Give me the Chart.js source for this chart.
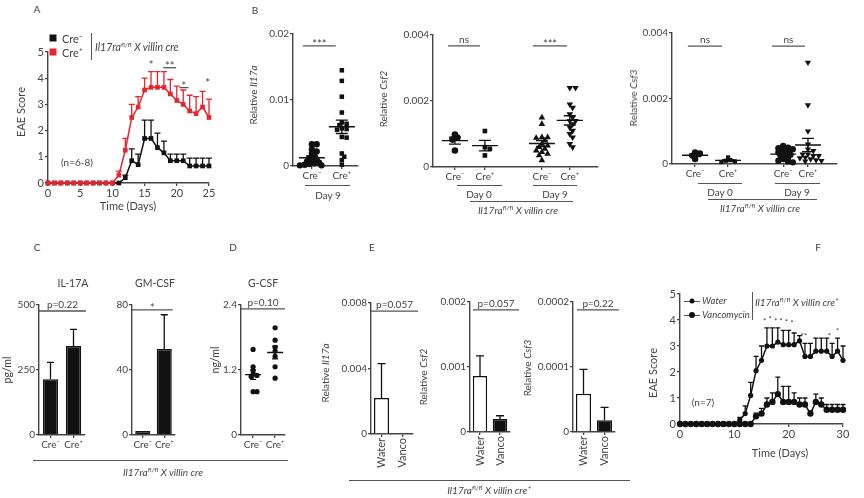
<!DOCTYPE html>
<html><head><meta charset="utf-8">
<script src="https://cdn.jsdelivr.net/npm/chart.js@4.4.1/dist/chart.umd.min.js"></script>
<style>
body{margin:0;width:864px;height:498px;background:#fff;position:relative;overflow:hidden;font-family:Lato,"Open Sans","DejaVu Sans",sans-serif;color:#444}
canvas{position:absolute}
.t{position:absolute;white-space:nowrap;transform:translate(-50%,-50%);font-size:11px;line-height:1}
.v{transform:translate(-50%,-50%) rotate(-90deg)}
.l{transform:translate(0,-50%)}
.hl{position:absolute;height:0;border-top:1.3px solid #555}
.vl{position:absolute;width:0;border-left:1.3px solid #555}
sup{font-size:6.5px;vertical-align:4px;line-height:0}
.sq{position:absolute;width:7px;height:7px;transform:translate(-50%,-50%)}
</style></head><body>
<script>
// ---------------- DATA ----------------
// Panel A: EAE score, Il17ra fl/fl x villin cre
const daysA = [0,1,2,3,4,5,6,7,8,9,10,11,12,13,14,15,16,17,18,19,20,21,22,23,24,25];
const creNegA    = [0,0,0,0,0,0,0,0,0,0,0,0,0.2,0.85,0.7,1.7,1.7,1.35,1.15,0.85,0.85,0.85,0.65,0.65,0.65,0.65];
const creNegSemA = [0,0,0,0,0,0,0,0,0,0,0,0,0.1,0.45,0.4,0.7,0.7,0.55,0.45,0.25,0.25,0.25,0.3,0.3,0.3,0.3];
const crePosA    = [0,0,0,0,0,0,0,0,0,0,0,0.3,1.25,2.5,2.9,3.55,3.65,3.65,3.65,3.4,3.15,3.0,2.75,2.65,2.9,2.5];
const crePosSemA = [0,0,0,0,0,0,0,0,0,0,0,0.15,0.45,0.5,0.4,0.45,0.6,0.6,0.6,0.55,0.55,0.55,0.6,0.65,0.6,0.7];
const xTicksA = [0,5,10,15,20,25];
const yTicksEAE = [0,1,2,3,4,5];

// Panel B: relative expression (scatter)
const catLabels = ['Cre\u207B','Cre\u207A','Cre\u207B','Cre\u207A'];
const il17aNegD9 = [0.0033,0.0033,0.0025,0.0022,0.0019,0.0015,0.0012,0.001,0.0008,0.0007,0.0005,0.0004,0.0003,0.0002,0.0001,0.0001];
const il17aPosD9 = [0.0145,0.0129,0.0105,0.0081,0.0066,0.0064,0.0062,0.0057,0.0056,0.0055,0.0044,0.0043,0.0019,0.0014,0.0009,0.0002];
const yTicksIl17a = [0,0.01,0.02];         const yLabelsIl17a = ['0','0.01','0.02'];
const csf2NegD0 = [0.00098,0.00089,0.00083,0.0005];
const csf2PosD0 = [0.00109,0.0006,0.00055,0.00035];
const csf2NegD9 = [0.0015,0.0013,0.0009,0.0009,0.00088,0.0008,0.0007,0.00065,0.0006,0.00055,0.0005,0.00045,0.0004,0.00035,0.0002];
const csf2PosD9 = [0.0024,0.0024,0.0019,0.0018,0.0016,0.0015,0.0014,0.0014,0.0013,0.0012,0.0011,0.001,0.0009,0.0007,0.0006];
const csf3NegD0 = [0.00035,0.00032,0.00025,0.00015];
const csf3PosD0 = [0.0002,0.00012,0.0001,0.00008,0.00006];
const csf3NegD9 = [0.00055,0.0005,0.00048,0.00045,0.0004,0.00038,0.00035,0.0003,0.00028,0.00025,0.0002,0.00015,0.0001,0.00008,0.00005];
const csf3PosD9 = [0.0031,0.0018,0.001,0.0006,0.00045,0.0004,0.0003,0.0003,0.00025,0.00025,0.0002,0.00018,0.00015,0.00012,0.0001,0.00008];
const yTicksCsf = [0,0.002,0.004];         const yLabelsCsf = ['0','0.002','0.004'];

// Panel C: serum cytokines (bars, mean + SEM)
const il17aProt = [214,342];  const il17aProtSem = [65,64];
const gmcsfProt = [2.5,53];   const gmcsfProtSem = [0,21];
const yTicksIL17A = [0,250,500]; const yLabelsIL17A = ['0','250','500'];
const yTicksGM = [0,40,80];      const yLabelsGM = ['0','40','80'];

// Panel D: G-CSF (scatter)
const gcsfNeg = [1.58,1.26,1.18,1.12,1.1,1.08,0.8,0.8];
const gcsfPos = [1.98,1.75,1.62,1.55,1.45,1.26,1.05];
const yTicksG = [0,1.2,2.4]; const yLabelsG = ['0','1.2','2.4'];

// Panel E: water vs vancomycin (bars)
const treatLabels = ['Water','Vanco'];
const il17aTreat = [0.0022,0];          const il17aTreatSem = [0.0021,0];
const csf2Treat  = [0.00086,0.0002];    const csf2TreatSem  = [0.00031,0.00005];
const csf3Treat  = [0.0000587,0.0000179]; const csf3TreatSem = [0.0000377,0.00002];
const yTicksE1 = [0,0.004,0.008];   const yLabelsE1 = ['0','0.004','0.008'];
const yTicksE2 = [0,0.001,0.002];   const yLabelsE2 = ['0','0.001','0.002'];
const yTicksE3 = [0,0.0001,0.0002]; const yLabelsE3 = ['0','0.0001','0.0002'];

// Panel F: EAE score, water vs vancomycin
const daysF = [0,1,2,3,4,5,6,7,8,9,10,11,12,13,14,15,16,17,18,19,20,21,22,23,24,25,26,27,28,29,30];
const waterF    = [0,0,0,0,0,0,0,0,0,0,0,0.15,0.4,1.1,2.05,2.45,3.0,3.0,3.15,3.05,3.05,3.05,3.2,2.6,2.6,2.8,2.8,2.8,2.6,2.8,2.45];
const waterSemF = [0,0,0,0,0,0,0,0,0,0,0,0.1,0.3,0.5,0.55,0.55,0.7,0.7,0.55,0.55,0.55,0.45,0.2,0.5,0.5,0.5,0.5,0.5,0.5,0.5,0.55];
const vancoF    = [0,0,0,0,0,0,0,0,0,0,0,0,0,0,0.3,0.4,0.75,0.85,1.15,0.85,0.85,0.85,0.75,0.75,0.4,0.85,0.75,0.55,0.55,0.55,0.55];
const vancoSemF = [0,0,0,0,0,0,0,0,0,0,0,0,0,0,0.12,0.2,0.25,0.35,0.65,0.6,0.6,0.35,0.25,0.25,0.1,0.3,0.25,0.2,0.2,0.2,0.2];
const xTicksF = [0,10,20,30];

// ---------------- RENDERING ----------------
Chart.defaults.font.family = 'Lato, "Open Sans", "DejaVu Sans", sans-serif';
Chart.defaults.font.size = 10;
Chart.defaults.color = '#444';
const INK = '#111', RED = '#e3262f';
const EX = {};
const G = {drawOnChartArea:false, drawTicks:true, tickLength:3, color:'#444', lineWidth:1.3};
const BORDER = {display:true, color:'#444', width:1.4};

const extras = {
  id:'extras',
  beforeDatasetsDraw(chart){
    const o = EX[chart.canvas.id] || {}; const ctx = chart.ctx; const ys = chart.scales.y;
    ctx.save();
    chart.data.datasets.forEach((ds, di) => {
      if (!ds.sem) return;
      const meta = chart.getDatasetMeta(di);
      ctx.strokeStyle = ds.errColor || INK; ctx.lineWidth = o.errW || 1.3;
      meta.data.forEach((el, i) => {
        const s = ds.sem[i]; if (!s) return;
        const raw = ds.data[i]; const v = (typeof raw === 'object') ? raw.y : raw;
        const y1 = ys.getPixelForValue(v + s);
        ctx.beginPath(); ctx.moveTo(el.x, el.y); ctx.lineTo(el.x, y1);
        ctx.moveTo(el.x - (o.cap||3), y1); ctx.lineTo(el.x + (o.cap||3), y1); ctx.stroke();
      });
    });
    ctx.restore();
  },
  afterDatasetsDraw(chart){
    const o = EX[chart.canvas.id] || {}; const ctx = chart.ctx;
    const xs = chart.scales.x, ys = chart.scales.y;
    ctx.save();
    ctx.strokeStyle = INK; ctx.lineWidth = 1.3;
    chart.data.datasets.forEach(ds => {
      if (!ds.vals) return;
      const n = ds.vals.length; const m = ds.vals.reduce((a,b)=>a+b,0)/n;
      const sd = Math.sqrt(ds.vals.reduce((a,b)=>a+(b-m)*(b-m),0)/(n-1)); const se = sd/Math.sqrt(n);
      const cx = xs.getPixelForValue(ds.pos), ym = ys.getPixelForValue(m);
      const yt = ys.getPixelForValue(m+se), yb = ys.getPixelForValue(Math.max(m-se, 0));
      ctx.beginPath();
      ctx.moveTo(cx - o.mh, ym); ctx.lineTo(cx + o.mh, ym);
      ctx.moveTo(cx, yt); ctx.lineTo(cx, yb);
      ctx.moveTo(cx - o.ch, yt); ctx.lineTo(cx + o.ch, yt);
      ctx.moveTo(cx - o.ch, yb); ctx.lineTo(cx + o.ch, yb);
      ctx.stroke();
    });
    ctx.strokeStyle = '#555'; ctx.fillStyle = '#444'; ctx.textAlign = 'center';
    const fs = o.sfs || 10;
    (o.sig||[]).forEach(s => {
      const x1 = xs.getPixelForValue(s.x1), x2 = xs.getPixelForValue(s.x2), y = ys.getPixelForValue(s.y);
      ctx.beginPath(); ctx.moveTo(x1, y); ctx.lineTo(x2, y); ctx.stroke();
      const star = s.t.indexOf('*') >= 0;
      ctx.font = (star ? fs+1 : fs) + 'px Lato, "Open Sans", sans-serif';
      ctx.fillText(s.t, (x1+x2)/2, star ? y + 2 : y - 3);
    });
    (o.stars||[]).forEach(s => {
      ctx.font = (o.stfs || fs+1) + 'px Lato, "Open Sans", sans-serif';
      ctx.fillText(s.t, xs.getPixelForValue(s.x), ys.getPixelForValue(s.y) + (o.stfs||fs+1)*0.55);
    });
    ctx.restore();
  }
};

function build(id, area, type, labels, datasets, o){
  const L = 50, T = 22, R = 26, B = o.B || 30;
  const w = area[1]-area[0]+L+R, h = area[3]-area[2]+T+B;
  const c = document.createElement('canvas');
  c.id = id; c.width = w; c.height = h;
  Object.assign(c.style, {left:(area[0]-L)+'px', top:(area[2]-T)+'px', width:w+'px', height:h+'px'});
  document.body.appendChild(c);
  const fs = o.fs || 10;
  const x = o.cat ? {
      type:'category', offset:true, grid:Object.assign({}, G, {offset:false}), border:BORDER,
      ticks:{font:{size:o.xfs||fs}, padding:1, autoSkip:false, minRotation:o.rot||0, maxRotation:o.rot||0}
    } : {
      type:'linear', min:o.xmin, max:o.xmax, grid:G, border:BORDER,
      afterBuildTicks:s=>{ s.ticks = o.xTicks.map(v=>({value:v})); },
      ticks:{font:{size:fs}, padding:1, autoSkip:false, minRotation:0, maxRotation:0, callback:(v,i)=>o.xLabels[i]}
    };
  x.afterFit = s => { s.height = B; };
  const y = {
    type:'linear', min:o.ymin, max:o.ymax, grid:G, border:BORDER,
    afterBuildTicks:s=>{ s.ticks = o.yTicks.map(v=>({value:v})); },
    ticks:{font:{size:fs}, padding:1, callback:(v,i)=>o.yLabels[i]},
    afterFit:s => { s.width = L; }
  };
  EX[id] = o;
  const data = {datasets}; if (labels) data.labels = labels;
  return new Chart(c, {type, data, options:{responsive:false, animation:false, devicePixelRatio:1,
    layout:{padding:{left:0, top:T, right:R, bottom:0}},
    plugins:{legend:{display:false}, tooltip:{enabled:false}}, scales:{x, y}}, plugins:[extras]});
}

// deterministic beeswarm: spread near-equal values sideways so markers overlap less
function swarm(vals, pos, pxX, pxY, r){
  const placed = [], out = new Array(vals.length);
  const order = vals.map((v,i)=>i).sort((a,b)=>vals[b]-vals[a]);
  for (const i of order){
    const py = vals[i]*pxY;
    for (let k=0;k<60;k++){
      const off = (k===0 ? 0 : (k%2 ? 1 : -1)*Math.ceil(k/2))*r*0.75;
      if (placed.every(p => Math.hypot(p.x-off, p.y-py) >= 1.05*r) || k===59){
        placed.push({x:off, y:py}); out[i] = {x: pos + off/pxX, y: vals[i]}; break;
      }
    }
  }
  return out;
}

function scatter(id, area, groups, o){
  const pxX = (area[1]-area[0])/(o.xmax-o.xmin), pxY = (area[3]-area[2])/(o.ymax-o.ymin);
  const ds = groups.map(g => ({
    data: swarm(g.vals, g.pos, pxX, pxY, g.r), vals:g.vals, pos:g.pos,
    pointStyle:g.style, pointRotation:g.rot||0, pointRadius:g.r, pointHoverRadius:g.r,
    backgroundColor:INK, borderColor:INK, pointBorderWidth:0, clip:false
  }));
  o.xTicks = groups.map(g=>g.pos);
  return build(id, area, 'scatter', null, ds, o);
}

function lineDs(days, vals, sem, color, style, r, order){
  return {data: days.map((d,i)=>({x:d, y:vals[i]})), sem, errColor:color,
    borderColor:color, backgroundColor:color, pointStyle:style, pointRadius:r, pointHoverRadius:r,
    pointBorderWidth:0, borderWidth:1.5, clip:false, order, tension:0};
}
function barDs(vals, sem, colors, pct){
  return {data: vals, sem, backgroundColor: colors, borderColor: INK, borderWidth: 1.5,
    barPercentage: pct, categoryPercentage: 1, errColor: INK};
}

// ---- A ----
build('A', [48,209,52,183], 'line', null, [
  lineDs(daysA, crePosA, crePosSemA, RED, 'rect', 3.3, 0),
  lineDs(daysA, creNegA, creNegSemA, INK, 'rect', 3.3, 1)
], {xmin:0, xmax:25, xTicks:xTicksA, xLabels:xTicksA.map(String), ymin:0, ymax:5, yTicks:yTicksEAE, yLabels:yTicksEAE.map(String),
    fs:11, cap:3, B:24,
    sig:[{x1:17.9,x2:19.9,y:4.4,t:'**'},{x1:20.4,x2:21.8,y:3.64,t:'*'}],
    stars:[{x:16,y:4.6,t:'*'},{x:24.8,y:3.88,t:'*'}]});

// ---- B ----
scatter('B1', [293,358,34,166], [
  {vals:il17aNegD9, pos:1, style:'circle', r:3.2},
  {vals:il17aPosD9, pos:2, style:'rect', r:3.2}
], {xmin:0.37, xmax:2.54, xLabels:catLabels, ymin:0, ymax:0.02, yTicks:yTicksIl17a, yLabels:yLabelsIl17a,
    mh:13, ch:6, sig:[{x1:0.7,x2:1.8,y:0.0182,t:'***'}]});

scatter('B2', [433,598,35,167], [
  {vals:csf2NegD0, pos:1, style:'circle', r:3.3},
  {vals:csf2PosD0, pos:2, style:'rect', r:3.3},
  {vals:csf2NegD9, pos:3.9, style:'triangle', r:3.8},
  {vals:csf2PosD9, pos:4.83, style:'triangle', rot:180, r:3.8}
], {xmin:0.27, xmax:5.77, xLabels:catLabels, ymin:0, ymax:0.004, yTicks:yTicksCsf, yLabels:yLabelsCsf,
    mh:13, ch:6, sig:[{x1:0.77,x2:1.84,y:0.00367,t:'ns'},{x1:3.6,x2:4.74,y:0.00367,t:'***'}]});

scatter('B3', [672,837,33,164], [
  {vals:csf3NegD0, pos:1, style:'circle', r:3.2},
  {vals:csf3PosD0, pos:2, style:'rect', r:3.0},
  {vals:csf3NegD9, pos:3.67, style:'circle', r:3.2},
  {vals:csf3PosD9, pos:4.42, style:'triangle', rot:180, r:3.6}
], {xmin:0.30, xmax:5.3, xLabels:catLabels, ymin:0, ymax:0.004, yTicks:yTicksCsf, yLabels:yLabelsCsf,
    mh:13, ch:6, sig:[{x1:0.78,x2:1.82,y:0.0036,t:'ns'},{x1:3.33,x2:4.33,y:0.0036,t:'ns'}]});

// ---- C ----
build('C1', [39,85,305,435], 'bar', catLabels.slice(0,2), [barDs(il17aProt, il17aProtSem, [INK,INK], 0.66)],
  {cat:true, ymin:0, ymax:500, yTicks:yTicksIL17A, yLabels:yLabelsIL17A, cap:3.5,
   sig:[{x1:-0.5,x2:1.54,y:477,t:'p=0.22'}]});
build('C2', [132,175,305,435], 'bar', catLabels.slice(0,2), [barDs(gmcsfProt, gmcsfProtSem, [INK,INK], 0.7)],
  {cat:true, ymin:0, ymax:80, yTicks:yTicksGM, yLabels:yLabelsGM, cap:3.5,
   sig:[{x1:-0.5,x2:1.4,y:77,t:'*'}]});

// ---- D ----
scatter('D', [241,285,305,435], [
  {vals:gcsfNeg, pos:1, style:'circle', r:2.6},
  {vals:gcsfPos, pos:2, style:'circle', r:2.6}
], {xmin:0.45, xmax:2.45, xLabels:catLabels, ymin:0, ymax:2.4, yTicks:yTicksG, yLabels:yLabelsG,
    mh:8, ch:3, sig:[{x1:0.45,x2:2.45,y:2.33,t:'p=0.10'}]});

// ---- E ----
build('E1', [371,413,303,434], 'bar', treatLabels, [barDs(il17aTreat, il17aTreatSem, ['#fff',INK], 0.72)],
  {cat:true, rot:90, B:42, xfs:11, ymin:0, ymax:0.008, yTicks:yTicksE1, yLabels:yLabelsE1, cap:4,
   sig:[{x1:-0.5,x2:1.74,y:0.0075,t:'p=0.057'}]});
build('E2', [470,510,302,432], 'bar', treatLabels, [barDs(csf2Treat, csf2TreatSem, ['#fff',INK], 0.72)],
  {cat:true, rot:90, B:42, xfs:11, ymin:0, ymax:0.002, yTicks:yTicksE2, yLabels:yLabelsE2, cap:4,
   sig:[{x1:-0.35,x2:1.95,y:0.00188,t:'p=0.057'}]});
build('E3', [573,615,302,432], 'bar', treatLabels, [barDs(csf3Treat, csf3TreatSem, ['#fff',INK], 0.72)],
  {cat:true, rot:90, B:42, xfs:11, ymin:0, ymax:0.0002, yTicks:yTicksE3, yLabels:yLabelsE3, cap:4,
   sig:[{x1:-0.31,x2:1.69,y:0.000188,t:'p=0.22'}]});

// ---- F ----
build('F', [680,843,294,424], 'line', null, [
  lineDs(daysF, waterF, waterSemF, INK, 'circle', 2.6, 0),
  lineDs(daysF, vancoF, vancoSemF, INK, 'circle', 3.2, 1)
], {xmin:0, xmax:30, xTicks:xTicksF, xLabels:xTicksF.map(String), ymin:0, ymax:5, yTicks:yTicksEAE, yLabels:yTicksEAE.map(String),
    fs:11, cap:2.5, B:24, stfs:8,
    stars:[{x:15.6,y:4.0,t:'*'},{x:16.6,y:4.08,t:'*'},{x:17.6,y:4.0,t:'*'},{x:18.6,y:4.02,t:'*'},{x:19.6,y:3.98,t:'*'},{x:20.6,y:3.95,t:'*'},
           {x:22.8,y:3.45,t:'**'},{x:27.5,y:3.45,t:'*'},{x:29,y:3.62,t:'*'}]});

// ---------------- TEXT / ANNOTATION OVERLAYS ----------------
function txt(x, y, html, cls, size){
  const d = document.createElement('div');
  d.className = 't' + (cls ? ' ' + cls : '');
  d.innerHTML = html; d.style.left = x+'px'; d.style.top = y+'px';
  if (size) d.style.fontSize = size+'px';
  document.body.appendChild(d);
}
function hl(x1, x2, y){ const d=document.createElement('div'); d.className='hl'; Object.assign(d.style,{left:x1+'px',top:y+'px',width:(x2-x1)+'px'}); document.body.appendChild(d); }
function vl(x, y1, y2){ const d=document.createElement('div'); d.className='vl'; Object.assign(d.style,{left:x+'px',top:y1+'px',height:(y2-y1)+'px'}); document.body.appendChild(d); }
function sq(x, y, color, round){ const d=document.createElement('div'); d.className='sq'; Object.assign(d.style,{left:x+'px',top:y+'px',background:color}); if(round){d.style.borderRadius='50%';d.style.width=round+'px';d.style.height=round+'px';} document.body.appendChild(d); }
const gene = s => '<i>Il17ra</i><sup>fl/fl</sup> <i>X villin cre' + (s||'') + '</i>';

// panel letters
txt(37,9,'A',null,10); txt(255,10,'B',null,10); txt(37,247,'C',null,10);
txt(233,247,'D',null,10); txt(372,247,'E',null,10); txt(818,247,'F',null,10);

// A
sq(53,38,INK); txt(62,38,'Cre\u207B','l',11);
sq(53,52,RED); txt(62,52,'Cre\u207A','l',11);
vl(91,33,60); txt(95,47,gene(),'l',10.5);
txt(77,162,'(n=6-8)',null,10);
txt(20,112,'EAE Score','v',11);
txt(128,205,'Time (Days)',null,11);

// B
txt(253,95,'Relative <i>Il17a</i>','v',10);
hl(305,350,185); txt(328,195,'Day 9',null,10);
txt(383,99,'Relative <i>Csf2</i>','v',10);
hl(457,502,185); txt(479,194,'Day 0',null,10);
hl(533,577,185); txt(555,194,'Day 9',null,10);
hl(470,573,201); txt(518,210,gene(),null,10);
txt(633,98,'Relative <i>Csf3</i>','v',10);
hl(698,742,183); txt(720,192,'Day 0',null,10);
hl(775,820,183); txt(797,192,'Day 9',null,10);
hl(708,817,199); txt(760,208,gene(),null,10);

// C / D
txt(73,283,'IL-17A',null,10.5); txt(155,283,'GM-CSF',null,10.5); txt(263,283,'G-CSF',null,10.5);
txt(7,370,'pg/ml','v',10.5); txt(215,360,'ng/ml','v',10.5);
hl(33,288,460); txt(163,472,gene(),null,10);

// E
txt(325,373,'Relative <i>Il17a</i>','v',10);
txt(423,377,'Relative <i>Csf2</i>','v',10);
txt(527,368,'Relative <i>Csf3</i>','v',10);
hl(349,630,480); txt(489,490,gene('\u207A'),null,10);

// F
hl(684,700,301); sq(692,301,INK,5); txt(702,301,'<i>Water</i>','l',9.5);
hl(684,700,315); sq(692,315,INK,6); txt(702,315,'<i>Vancomycin</i>','l',9.5);
vl(752,292,320); txt(755,302,gene('\u207A'),'l',10);
txt(703,402,'(n=7)',null,10);
txt(652,373,'EAE Score','v',11);
txt(780,452,'Time (Days)',null,11);
</script>
</body></html>
